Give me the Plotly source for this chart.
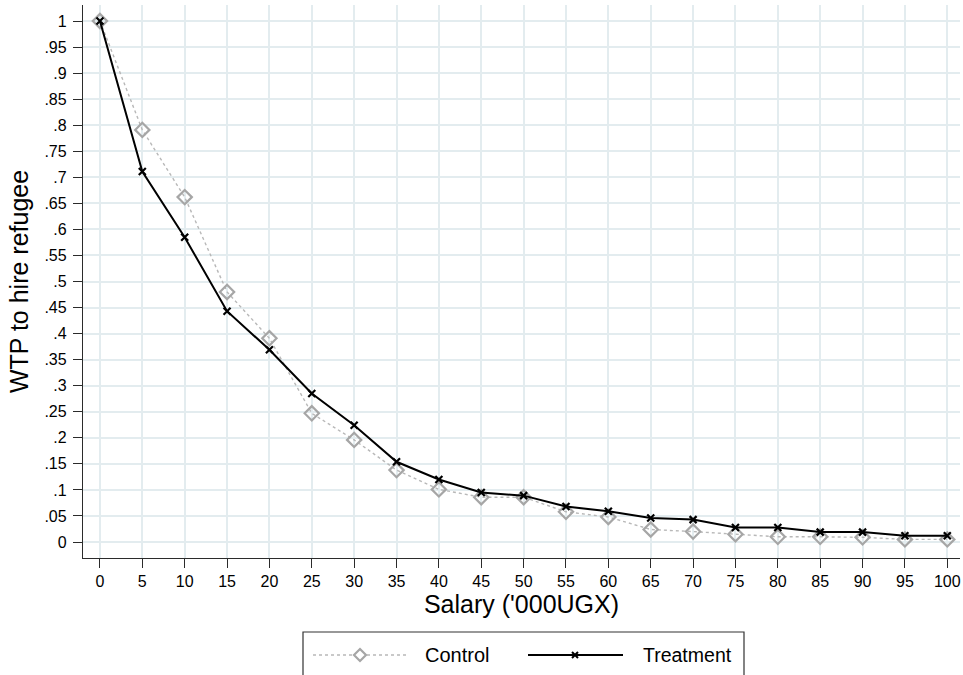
import plotly.graph_objects as go

# Salary offers (thousand UGX) and willingness-to-pay shares
salary = [0, 5, 10, 15, 20, 25, 30, 35, 40, 45, 50, 55, 60, 65, 70, 75, 80, 85, 90, 95, 100]
control = [1.0, 0.791, 0.662, 0.480, 0.391, 0.247, 0.196, 0.138, 0.101, 0.086, 0.086,
           0.058, 0.048, 0.024, 0.020, 0.015, 0.010, 0.010, 0.009, 0.005, 0.005]
treatment = [1.0, 0.711, 0.585, 0.443, 0.369, 0.285, 0.224, 0.154, 0.120, 0.095, 0.089,
             0.068, 0.059, 0.046, 0.043, 0.028, 0.028, 0.019, 0.019, 0.012, 0.012]
series_names = ["Control", "Treatment"]

y_ticks = [i * 0.05 for i in range(21)]
y_labels = ["0", ".05", ".1", ".15", ".2", ".25", ".3", ".35", ".4", ".45", ".5",
            ".55", ".6", ".65", ".7", ".75", ".8", ".85", ".9", ".95", "1"]
x_ticks = list(range(0, 101, 5))

FONT = "Liberation Sans, Arial, Helvetica, sans-serif"
GRID = "#e3ecef"
AXIS = "#2b2b2b"
CTRL_LINE = "#b8b8b8"
CTRL_MARK = "#a6a6a6"

W, H = 963, 675
M = dict(l=83, r=3, t=5, b=117)
PW = W - M["l"] - M["r"]
PH = H - M["t"] - M["b"]


def px(x):
    return (x - M["l"]) / PW


def py(y):
    return (H - M["b"] - y) / PH


fig = go.Figure()
fig.add_trace(go.Scatter(
    x=salary, y=control, name=series_names[0], mode="lines+markers",
    line=dict(color=CTRL_LINE, width=1.4, dash="dot"),
    marker=dict(symbol="diamond-open", size=11, color=CTRL_MARK,
                line=dict(width=2.2, color=CTRL_MARK)),
))
fig.add_trace(go.Scatter(
    x=salary, y=treatment, name=series_names[1], mode="lines+markers",
    line=dict(color="#000000", width=2),
    marker=dict(symbol="x-thin", size=7, color="#000000",
                line=dict(width=2.2, color="#000000")),
))

# Legend box below the plot, drawn with shapes and annotations
legend_y = py(655)
shapes = [
    dict(type="rect", xref="paper", yref="paper",
         x0=px(303), x1=px(744), y0=py(632), y1=py(700),
         line=dict(color="#333333", width=1.2), fillcolor="white", layer="above"),
    dict(type="line", xref="paper", yref="paper",
         x0=px(313), x1=px(407), y0=legend_y, y1=legend_y,
         line=dict(color=CTRL_LINE, width=1.4, dash="dot"), layer="above"),
    dict(type="path", xref="paper", yref="paper", xsizemode="pixel", ysizemode="pixel",
         xanchor=px(360), yanchor=legend_y, path="M 0,6 L 6,0 L 0,-6 L -6,0 Z",
         line=dict(color=CTRL_MARK, width=2.2), fillcolor="white", layer="above"),
    dict(type="line", xref="paper", yref="paper",
         x0=px(528), x1=px(623), y0=legend_y, y1=legend_y,
         line=dict(color="#000000", width=2), layer="above"),
    dict(type="path", xref="paper", yref="paper", xsizemode="pixel", ysizemode="pixel",
         xanchor=px(575), yanchor=legend_y, path="M -3,-3 L 3,3 M -3,3 L 3,-3",
         line=dict(color="#000000", width=2), layer="above"),
]
annotations = [
    dict(text=series_names[0], xref="paper", yref="paper", x=px(423), y=legend_y,
         xanchor="left", yanchor="middle", showarrow=False,
         font=dict(size=20, family=FONT, color="#000000")),
    dict(text=series_names[1], xref="paper", yref="paper", x=px(641), y=legend_y,
         xanchor="left", yanchor="middle", showarrow=False,
         font=dict(size=19.5, family=FONT, color="#000000")),
]

fig.update_layout(
    width=W, height=H,
    margin=M,
    paper_bgcolor="white", plot_bgcolor="white",
    font=dict(family=FONT, color="#000000"),
    showlegend=False,
    shapes=shapes,
    annotations=annotations,
    xaxis=dict(
        range=[-2, 101.5], tickvals=x_ticks, ticktext=[str(v) for v in x_ticks],
        showgrid=True, gridcolor=GRID, gridwidth=1.6,
        showline=True, linecolor=AXIS, linewidth=1.3,
        ticks="outside", ticklen=9, tickwidth=1.3, tickcolor=AXIS,
        tickfont=dict(size=16), zeroline=False,
        title=dict(text="Salary ('000UGX)", font=dict(size=25), standoff=3),
    ),
    yaxis=dict(
        range=[-0.0307, 1.0307], tickvals=y_ticks, ticktext=y_labels,
        showgrid=True, gridcolor=GRID, gridwidth=1.6,
        showline=True, linecolor=AXIS, linewidth=1.3,
        ticks="outside", ticklen=9, tickwidth=1.3, tickcolor=AXIS,
        tickfont=dict(size=16), zeroline=False, ticklabelstandoff=3,
        title=dict(text="WTP to hire refugee", font=dict(size=25), standoff=8),
    ),
)

fig.write_html("out.html")
